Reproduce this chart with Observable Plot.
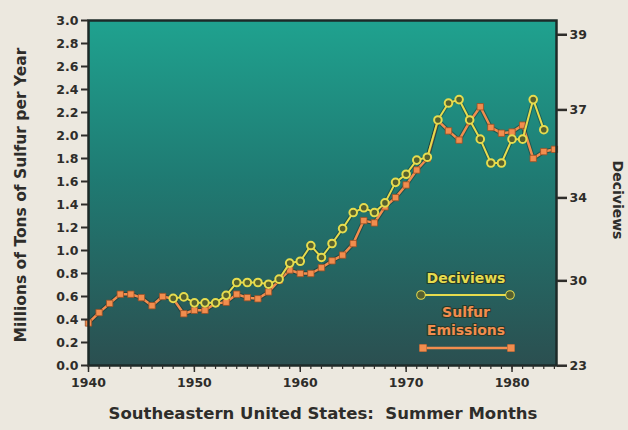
<!DOCTYPE html>
<html><head><meta charset="utf-8">
<script src="https://cdn.jsdelivr.net/npm/d3@7"></script>
<script src="https://cdn.jsdelivr.net/npm/@observablehq/plot@0.6"></script>
<style>
html,body{margin:0;padding:0;background:#ece8df;}
#chart{width:628px;height:430px;}
</style></head><body><div id="chart"></div>
<script>
// Sulfur emissions, millions of tons per year (left axis)
const sulfurYears = [1940,1941,1942,1943,1944,1945,1946,1947,1948,1949,1950,1951,1952,1953,1954,1955,1956,1957,1958,1959,1960,1961,1962,1963,1964,1965,1966,1967,1968,1969,1970,1971,1972,1973,1974,1975,1976,1977,1978,1979,1980,1981,1982,1983,1984];
const sulfurValues = [0.37,0.46,0.54,0.62,0.62,0.59,0.52,0.60,0.58,0.45,0.48,0.48,0.54,0.55,0.62,0.59,0.58,0.64,0.74,0.83,0.80,0.80,0.85,0.91,0.96,1.06,1.26,1.24,1.38,1.46,1.57,1.70,1.80,2.13,2.04,1.96,2.12,2.25,2.07,2.02,2.03,2.09,1.80,1.86,1.88];

// Visibility, deciviews (right axis)
const dvYears = [1948,1949,1950,1951,1952,1953,1954,1955,1956,1957,1958,1959,1960,1961,1962,1963,1964,1965,1966,1967,1968,1969,1970,1971,1972,1973,1974,1975,1976,1977,1978,1979,1980,1981,1982,1983];
const dvValues = [28.9,29.0,28.6,28.6,28.6,29.1,29.9,29.9,29.9,29.8,30.1,31.0,31.1,31.9,31.3,32.0,32.7,33.4,33.6,33.4,33.8,34.6,34.9,35.4,35.5,36.7,37.2,37.3,36.7,36.1,35.3,35.3,36.1,36.1,37.3,36.4];

// Axis ticks
const leftTicks = [0,0.2,0.4,0.6,0.8,1.0,1.2,1.4,1.6,1.8,2.0,2.2,2.4,2.6,2.8,3.0];
const rightTicks = [23,30,34,37,39];
const decadeTicks = [1940,1950,1960,1970,1980];
const yearTicks = sulfurYears;

// deciview -> position on the sulfur scale (extinction is linear: b = 10*exp(dv/10))
const dvToY = dv => (10 * Math.exp(dv / 10) - 100) / 137;

const sulfur = sulfurYears.map((y, i) => ({year: y, value: sulfurValues[i]}));
const deciviews = dvYears.map((y, i) => ({year: y, dv: dvValues[i], yy: dvToY(dvValues[i])}));
const rightPos = rightTicks.map(dvToY);
const rightLabel = new Map(rightPos.map((p, i) => [p, String(rightTicks[i])]));

const ink = "#2e2d2a";
const yellow = "#e6dc4e";
const orange = "#f28d4e";
const font = "'DejaVu Sans', Arial, sans-serif";

const plot = Plot.plot({
  width: 628, height: 430,
  marginLeft: 88, marginRight: 72, marginTop: 20, marginBottom: 65,
  style: {fontFamily: font, fontWeight: "bold", fontSize: "12px", background: "transparent", color: ink},
  x: {domain: [1940, 1984.2]},
  y: {domain: [0, 3]},
  marks: [
    Plot.frame({fill: "url(#tealGrad)"}),
    // sulfur emissions
    Plot.line(sulfur, {x: "year", y: "value", stroke: "#1a2623", strokeWidth: 4.5, strokeOpacity: 0.45}),
    Plot.line(sulfur, {x: "year", y: "value", stroke: orange, strokeWidth: 2.5}),
    Plot.dot(sulfur, {x: "year", y: "value", symbol: "square", r: 3.6, fill: orange, stroke: "#9c4f24", strokeWidth: 0.8}),
    // deciviews
    Plot.line(deciviews, {x: "year", y: "yy", stroke: "#1a2623", strokeWidth: 4, strokeOpacity: 0.4}),
    Plot.line(deciviews, {x: "year", y: "yy", stroke: yellow, strokeWidth: 2}),
    Plot.dot(deciviews, {x: "year", y: "yy", r: 3.8, fill: "#56602e", stroke: yellow, strokeWidth: 2}),
    Plot.frame({stroke: "#1d2a28", strokeWidth: 2.5}),
    // axes
    Plot.axisY({ticks: leftTicks, tickFormat: d => d.toFixed(1), tickSize: 7, tickPadding: 3, label: null, stroke: ink, strokeWidth: 2, fontSize: 12.5}),
    Plot.axisY({anchor: "right", ticks: rightPos, tickFormat: p => rightLabel.get(p), tickSize: 10, tickPadding: 3, label: null, stroke: ink, strokeWidth: 2.5, fontSize: 12.5}),
    Plot.axisX({ticks: yearTicks, tickSize: 4, tickFormat: () => "", label: null, stroke: ink, strokeWidth: 1.2}),
    Plot.axisX({ticks: decadeTicks, tickSize: 7, tickPadding: 6, tickFormat: d => String(d), label: null, stroke: ink, strokeWidth: 1.5, fontSize: 12.5})
  ]
});
document.getElementById("chart").appendChild(plot);

const svg = d3.select(plot);
const defs = svg.insert("defs", ":first-child");
const g = defs.append("linearGradient").attr("id", "tealGrad").attr("x1", 0).attr("y1", 0).attr("x2", 0).attr("y2", 1);
g.append("stop").attr("offset", "0%").attr("stop-color", "#1fa28f");
g.append("stop").attr("offset", "45%").attr("stop-color", "#1f7b73");
g.append("stop").attr("offset", "100%").attr("stop-color", "#2b4f50");

// axis titles
svg.append("text").attr("transform", "translate(21,195) rotate(-90)").attr("text-anchor", "middle")
  .attr("dominant-baseline", "middle").attr("font-family", font).attr("font-weight", "bold").attr("font-size", 15.5).attr("fill", ink)
  .text("Millions of Tons of Sulfur per Year");
svg.append("text").attr("transform", "translate(617,200) rotate(90)").attr("text-anchor", "middle")
  .attr("dominant-baseline", "middle").attr("font-family", font).attr("font-weight", "bold").attr("font-size", 14).attr("fill", ink)
  .text("Deciviews");
svg.append("text").attr("x", 323).attr("y", 414).attr("text-anchor", "middle").attr("dominant-baseline", "middle")
  .attr("font-family", font).attr("font-weight", "bold").attr("font-size", 16.5).attr("fill", ink)
  .text("Southeastern United States:  Summer Months");

// legend
const lg = svg.append("g").attr("font-family", font).attr("font-weight", "bold").attr("text-anchor", "middle")
  .attr("paint-order", "stroke").attr("stroke", "#243a2a").attr("stroke-width", 2.2).attr("stroke-linejoin", "round");
lg.append("text").attr("x", 466).attr("y", 283).attr("font-size", 14).attr("fill", yellow).text("Deciviews");
lg.append("line").attr("x1", 421).attr("x2", 510).attr("y1", 295).attr("y2", 295).attr("stroke", yellow).attr("stroke-width", 2);
lg.append("circle").attr("cx", 421).attr("cy", 295).attr("r", 3.8).attr("fill", "#56602e").attr("stroke", yellow).attr("stroke-width", 2);
lg.append("circle").attr("cx", 510).attr("cy", 295).attr("r", 3.8).attr("fill", "#56602e").attr("stroke", yellow).attr("stroke-width", 2);
lg.append("text").attr("x", 466).attr("y", 317).attr("font-size", 14).attr("fill", orange).text("Sulfur");
lg.append("text").attr("x", 466).attr("y", 335).attr("font-size", 14).attr("fill", orange).text("Emissions");
lg.append("line").attr("x1", 423).attr("x2", 511).attr("y1", 348).attr("y2", 348).attr("stroke", orange).attr("stroke-width", 2.5);
lg.append("rect").attr("x", 419.5).attr("y", 344.5).attr("width", 7).attr("height", 7).attr("fill", orange).attr("stroke", "#9c4f24").attr("stroke-width", 0.8);
lg.append("rect").attr("x", 507.5).attr("y", 344.5).attr("width", 7).attr("height", 7).attr("fill", orange).attr("stroke", "#9c4f24").attr("stroke-width", 0.8);
</script>
</body></html>
